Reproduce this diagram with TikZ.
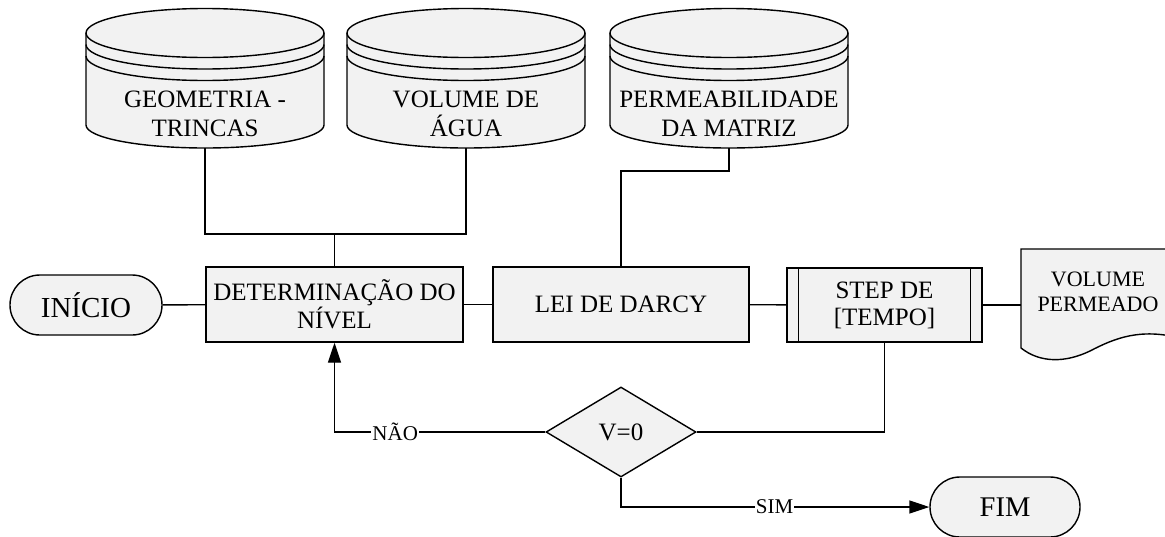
\documentclass[tikz,border=0pt]{standalone}
\usepackage{fontspec}
\setmainfont{Liberation Serif}
\usetikzlibrary{shapes.geometric,arrows.meta}
\definecolor{boxfill}{HTML}{F2F2F2}
\tikzset{
  ln/.style={line width=1.4pt, draw=black},
  box/.style={ln, fill=boxfill, rectangle, inner sep=0pt, align=center},
  term/.style={ln, fill=boxfill, rectangle, rounded corners=29.9pt, inner sep=0pt, minimum height=60pt},
  lbl/.style={fill=white, inner sep=1pt, font=\fontsize{21}{21}\selectfont},
  arr/.style={-{Triangle[length=20pt,width=13pt]}},
  bigtxt/.style={font=\fontsize{25}{25}\selectfont},
}
\newcommand\diskcyl[3]{%
  \begin{scope}[shift={(#2,0)}]
    \path[fill=boxfill] (-119,33) -- (-119,125) arc[start angle=180,end angle=0,x radius=119,y radius=23] -- (119,33) -- cycle;
    \draw[ln] (-119,33) -- (-119,125) arc[start angle=180,end angle=0,x radius=119,y radius=23] -- (119,33);
    \draw[ln, fill=boxfill] (0,33) ellipse[x radius=119, y radius=24.5];
    \draw[ln] (-119,44.5) arc[start angle=180,end angle=0,x radius=119,y radius=24.5];
    \draw[ln] (-119,56) arc[start angle=180,end angle=0,x radius=119,y radius=24.5];
    \node[inner sep=0pt, minimum width=238pt, minimum height=139.5pt] (#1) at (0,78.25) {};
    \node[align=center, inner sep=0pt, font=\fontsize{25}{29}\selectfont] (#1t) at (0,114) {#3};
  \end{scope}}
\begin{document}
\begin{tikzpicture}[x=1pt,y=-1pt]
\useasboundingbox (0,0) rectangle (1165,536);
\fill[white] (0,0) rectangle (1165,536);
\clip (0,0) rectangle (1165,536);

\diskcyl{c1}{205}{GEOMETRIA -\\TRINCAS}
\diskcyl{c2}{466}{VOLUME DE\\ÁGUA}
\diskcyl{c3}{729}{PERMEABILIDADE\\DA MATRIZ}

\node[term, minimum width=152pt, font=\fontsize{29}{29}\selectfont] (ini) at (86,305) {INÍCIO};
\node[box, bigtxt, minimum width=257pt, minimum height=75pt] (det) at (334.5,304.5) {DETERMINAÇÃO DO\\NÍVEL};
\node[box, bigtxt, minimum width=256pt, minimum height=75pt] (lei) at (621,304.5) {LEI DE DARCY};
\node[box, font=\fontsize{25}{27}\selectfont, minimum width=195pt, minimum height=74pt] (stp) at (884.5,305) {STEP DE\\\relax [TEMPO]};
\draw[ln] ([xshift=12pt]stp.north west) -- ([xshift=12pt]stp.south west);
\draw[ln] ([xshift=-12pt]stp.north east) -- ([xshift=-12pt]stp.south east);

\path[ln, fill=boxfill] (1021,249) -- (1180,249) -- (1180,338)
  .. controls (1140,328) and (1115,338) .. (1090,351)
  .. controls (1065,363) and (1040,363) .. (1021,348) -- cycle;
\node[inner sep=0pt, minimum width=154pt, minimum height=99pt] (doc) at (1098,298.5) {};
\node[align=center, inner sep=0pt, font=\fontsize{22}{25}\selectfont] (doct) at (1098,292) {VOLUME\\PERMEADO};

\node[ln, fill=boxfill, diamond, minimum width=150pt, minimum height=90pt, inner sep=0pt, bigtxt] (dia) at (621,432) {V=0};
\node[term, minimum width=150pt, font=\fontsize{28.5}{28.5}\selectfont] (fim) at (1005,507) {FIM};

\draw[ln] (ini) -- (det);
\draw[ln] (det) -- (lei);
\draw[ln] (lei) -- (stp);
\draw[ln] (stp.east) -- (stp.east -| doc.west);

\coordinate (j1) at (334.5,234);
\draw[ln] (c1.south) |- (j1) -| (c2.south);
\draw[ln] (j1) -- (det.north);
\coordinate (j2) at (621,171);
\draw[ln] (c3.south) |- (j2) -- (lei.north);

\draw[ln] (stp.south) |- (dia.east);
\draw[ln, arr] (dia.west) -| node[lbl, pos=0.356] {NÃO} (det.south);
\draw[ln, arr] (dia.south) |- node[lbl, pos=0.749] {SIM} (fim.west);
\end{tikzpicture}
\end{document}
